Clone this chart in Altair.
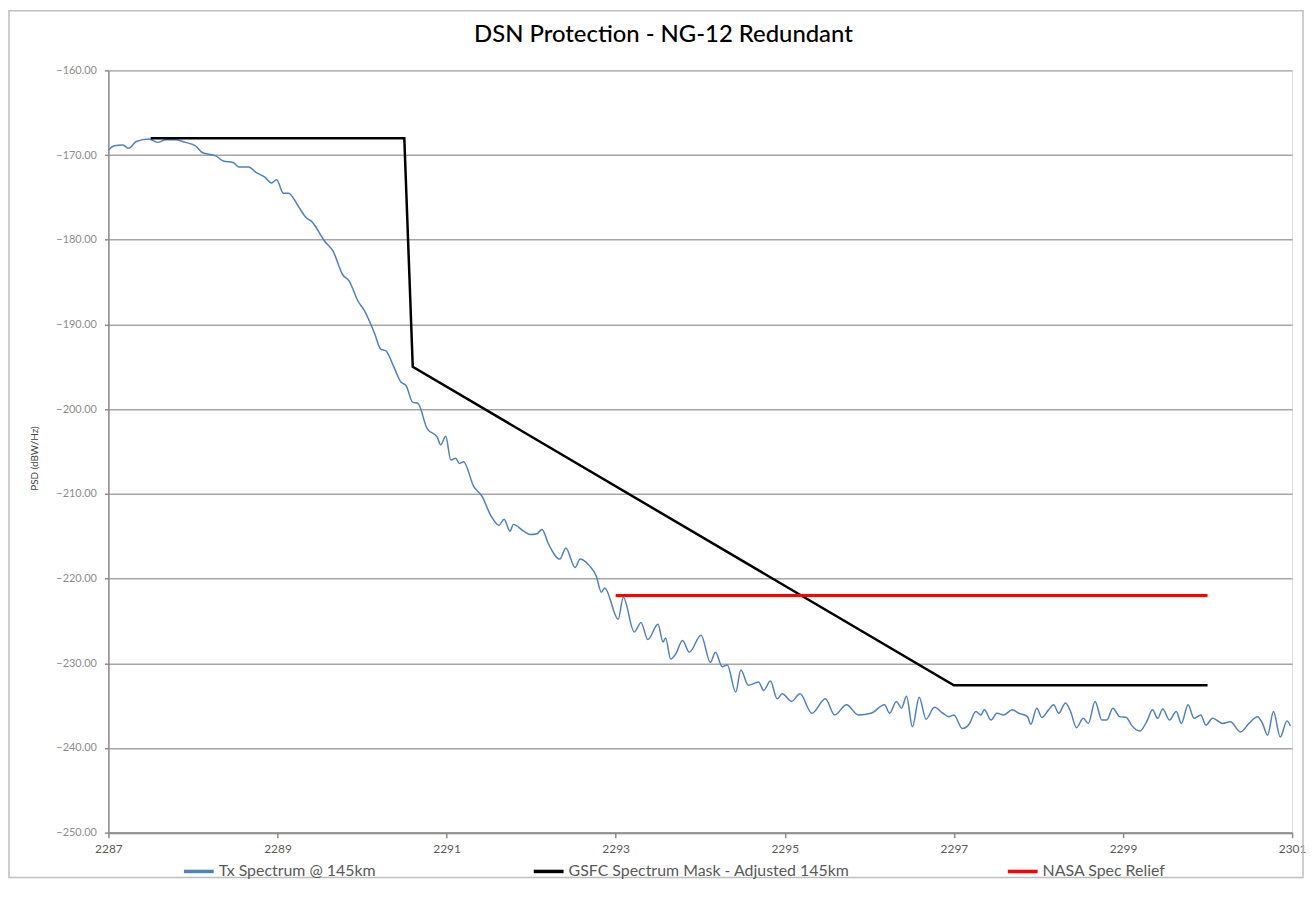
import altair as alt
import pandas as pd

S_TX = "Tx Spectrum @ 145km"
S_MASK = "GSFC Spectrum Mask - Adjusted 145km"
S_NASA = "NASA Spec Relief"

tx_freq = [
    2287.00, 2287.07, 2287.17, 2287.24, 2287.33, 2287.48, 2287.58, 2287.68, 2287.80, 2287.91,
    2288.03, 2288.11, 2288.27, 2288.36, 2288.48, 2288.54, 2288.66, 2288.74, 2288.85, 2288.93,
    2288.99, 2289.07, 2289.13, 2289.25, 2289.34, 2289.40, 2289.56, 2289.66, 2289.77, 2289.85,
    2289.95, 2290.03, 2290.15, 2290.22, 2290.28, 2290.38, 2290.46, 2290.52, 2290.60, 2290.66,
    2290.77, 2290.89, 2290.93, 2290.99, 2291.05, 2291.11, 2291.15, 2291.20, 2291.32, 2291.42,
    2291.52, 2291.62, 2291.68, 2291.75, 2291.79, 2291.91, 2291.99, 2292.07, 2292.13, 2292.20,
    2292.34, 2292.41, 2292.52, 2292.58, 2292.69, 2292.77, 2292.83, 2292.87, 2293.03, 2293.09,
    2293.22, 2293.30, 2293.38, 2293.50, 2293.56, 2293.59, 2293.65, 2293.71, 2293.79, 2293.87,
    2294.01, 2294.12, 2294.18, 2294.26, 2294.32, 2294.42, 2294.48, 2294.57, 2294.69, 2294.75,
    2294.83, 2294.91, 2294.97, 2295.08, 2295.18, 2295.32, 2295.48, 2295.59, 2295.73, 2295.87,
    2296.02, 2296.18, 2296.24, 2296.32, 2296.38, 2296.44, 2296.51, 2296.59, 2296.67, 2296.77,
    2296.87, 2296.94, 2297.00, 2297.10, 2297.18, 2297.26, 2297.32, 2297.36, 2297.44, 2297.51,
    2297.59, 2297.69, 2297.77, 2297.87, 2297.91, 2297.98, 2298.04, 2298.12, 2298.18, 2298.24,
    2298.32, 2298.38, 2298.45, 2298.53, 2298.59, 2298.67, 2298.75, 2298.81, 2298.88, 2298.96,
    2299.04, 2299.10, 2299.20, 2299.28, 2299.35, 2299.41, 2299.47, 2299.55, 2299.63, 2299.69,
    2299.77, 2299.84, 2299.92, 2299.98, 2300.06, 2300.18, 2300.27, 2300.39, 2300.49, 2300.59,
    2300.65, 2300.71, 2300.78, 2300.86, 2300.94, 2300.98,
]
tx_psd = [
    -169.4, -168.9, -168.8, -169.2, -168.4, -168.1, -168.5, -168.2, -168.2, -168.5,
    -168.9, -169.7, -170.1, -170.7, -170.9, -171.4, -171.4, -172.0, -172.6, -173.3,
    -172.9, -174.5, -174.5, -176.1, -177.4, -177.8, -180.2, -181.4, -184.1, -184.9,
    -187.2, -188.4, -191.1, -192.9, -193.1, -195.1, -196.8, -197.2, -199.2, -199.3,
    -202.3, -203.3, -204.2, -203.2, -206.0, -205.8, -206.4, -206.2, -209.1, -210.3,
    -212.5, -213.7, -213.0, -214.4, -213.6, -214.4, -214.8, -214.7, -214.2, -215.8,
    -217.7, -216.4, -218.7, -217.7, -218.5, -219.7, -221.6, -221.1, -224.8, -222.2,
    -226.3, -225.2, -227.2, -225.4, -227.5, -227.0, -229.5, -228.9, -227.3, -228.7,
    -226.7, -229.9, -228.7, -230.4, -230.2, -233.4, -230.8, -232.6, -232.2, -233.2,
    -232.1, -234.2, -233.6, -234.5, -233.6, -235.9, -234.2, -236.1, -234.9, -236.1,
    -235.9, -234.9, -235.9, -234.5, -235.3, -233.9, -237.5, -234.0, -236.6, -235.2,
    -235.9, -236.3, -236.1, -237.7, -237.2, -235.7, -236.1, -235.5, -236.7, -235.9,
    -236.1, -235.5, -235.9, -236.3, -237.2, -235.3, -236.4, -235.5, -234.9, -235.9,
    -234.7, -235.7, -237.6, -236.5, -237.1, -234.5, -236.7, -236.7, -235.3, -236.3,
    -236.4, -237.3, -238.0, -236.9, -235.5, -236.5, -235.4, -236.7, -235.7, -237.1,
    -234.9, -236.5, -236.1, -237.3, -236.5, -237.1, -236.9, -238.1, -237.1, -236.3,
    -237.1, -238.5, -235.7, -238.7, -236.8, -237.4,
]

mask_freq = [2287.5, 2290.5, 2290.6, 2297.0, 2300.0]
mask_psd = [-168.0, -168.0, -195.0, -232.6, -232.6]

relief_freq = [2293.0, 2300.0]
relief_psd = [-222.0, -222.0]

x_ticks = [2287, 2289, 2291, 2293, 2295, 2297, 2299, 2301]
y_ticks = [-250, -240, -230, -220, -210, -200, -190, -180, -170, -160]

series_order = [S_TX, S_MASK, S_NASA]
series_colors = ["#4f81bd", "#000000", "#ff0000"]

FONT = "Lato"

df_tx = pd.DataFrame({"freq": tx_freq, "psd": tx_psd, "series": S_TX})
df_mask = pd.DataFrame({"freq": mask_freq, "psd": mask_psd, "series": S_MASK})
df_nasa = pd.DataFrame({"freq": relief_freq, "psd": relief_psd, "series": S_NASA})

x_enc = alt.X(
    "freq:Q",
    scale=alt.Scale(domain=[2287, 2301], nice=False, zero=False),
    axis=alt.Axis(
        values=x_ticks, format="d", title=None, grid=False,
        domainColor="#8c8c8c", domainWidth=2, tickColor="#8c8c8c", tickSize=5, tickWidth=1.5,
        labelFont=FONT, labelFontSize=12, labelColor="#595959", labelPadding=6,
        labelFlush=False, labelOverlap=False,
    ),
)
y_enc = alt.Y(
    "psd:Q",
    scale=alt.Scale(domain=[-250, -160], nice=False, zero=False),
    axis=alt.Axis(
        values=y_ticks, format=".2f", title="PSD (dBW/Hz)",
        titleFont=FONT, titleFontSize=10, titleFontWeight="normal", titleColor="#404040",
        titleX=-74, titleY=390, titleAngle=-90, titleAlign="center", titleBaseline="middle",
        grid=True, gridColor="#a6a6a6", gridWidth=1.5,
        domainColor="#8c8c8c", domainWidth=1.5, tickColor="#8c8c8c", tickSize=4, tickWidth=1.5,
        labelFont=FONT, labelFontSize=11, labelColor="#8c8c8c", labelPadding=8,
        labelFlush=False, labelOverlap=False,
    ),
)
color_enc = alt.Color(
    "series:N",
    scale=alt.Scale(domain=series_order, range=series_colors),
    legend=alt.Legend(
        title=None, orient="none", direction="horizontal", legendX=74, legendY=789,
        symbolType="stroke", symbolSize=900, symbolStrokeWidth=3.5,
        labelFont=FONT, labelFontSize=16, labelColor="#595959", labelOffset=3,
        labelLimit=500, columnPadding=152, padding=0,
    ),
)

line_tx = alt.Chart(df_tx).mark_line(strokeWidth=1.5, interpolate="monotone").encode(
    x=x_enc, y=y_enc, color=color_enc
)
line_mask = alt.Chart(df_mask).mark_line(strokeWidth=2.5).encode(
    x=x_enc, y=y_enc, color=color_enc
)
line_nasa = alt.Chart(df_nasa).mark_line(strokeWidth=3).encode(
    x=x_enc, y=y_enc, color=color_enc
)

frame = alt.Chart(pd.DataFrame({"k": [0]})).mark_rect(
    fill=None, stroke="#bfbfbf", strokeWidth=1.5
).encode(
    x=alt.value(-100), x2=alt.value(1202), y=alt.value(-60), y2=alt.value(812)
)

chart = alt.layer(frame, line_tx, line_mask, line_nasa).properties(
    width=1191,
    height=767,
    autosize=alt.AutoSizeParams(type="none"),
    padding={"left": 101, "top": 60, "right": 14, "bottom": 70},
    title=alt.TitleParams(
        "DSN Protection - NG-12 Redundant", font=FONT, fontSize=24, fontWeight=500,
        color="#000000", anchor="middle", frame="group", dx=-37, offset=0, dy=37,
    ),
).configure_view(stroke=None).configure(background="white")

chart.save("out.html", embed_options={"renderer": "svg", "actions": False})
